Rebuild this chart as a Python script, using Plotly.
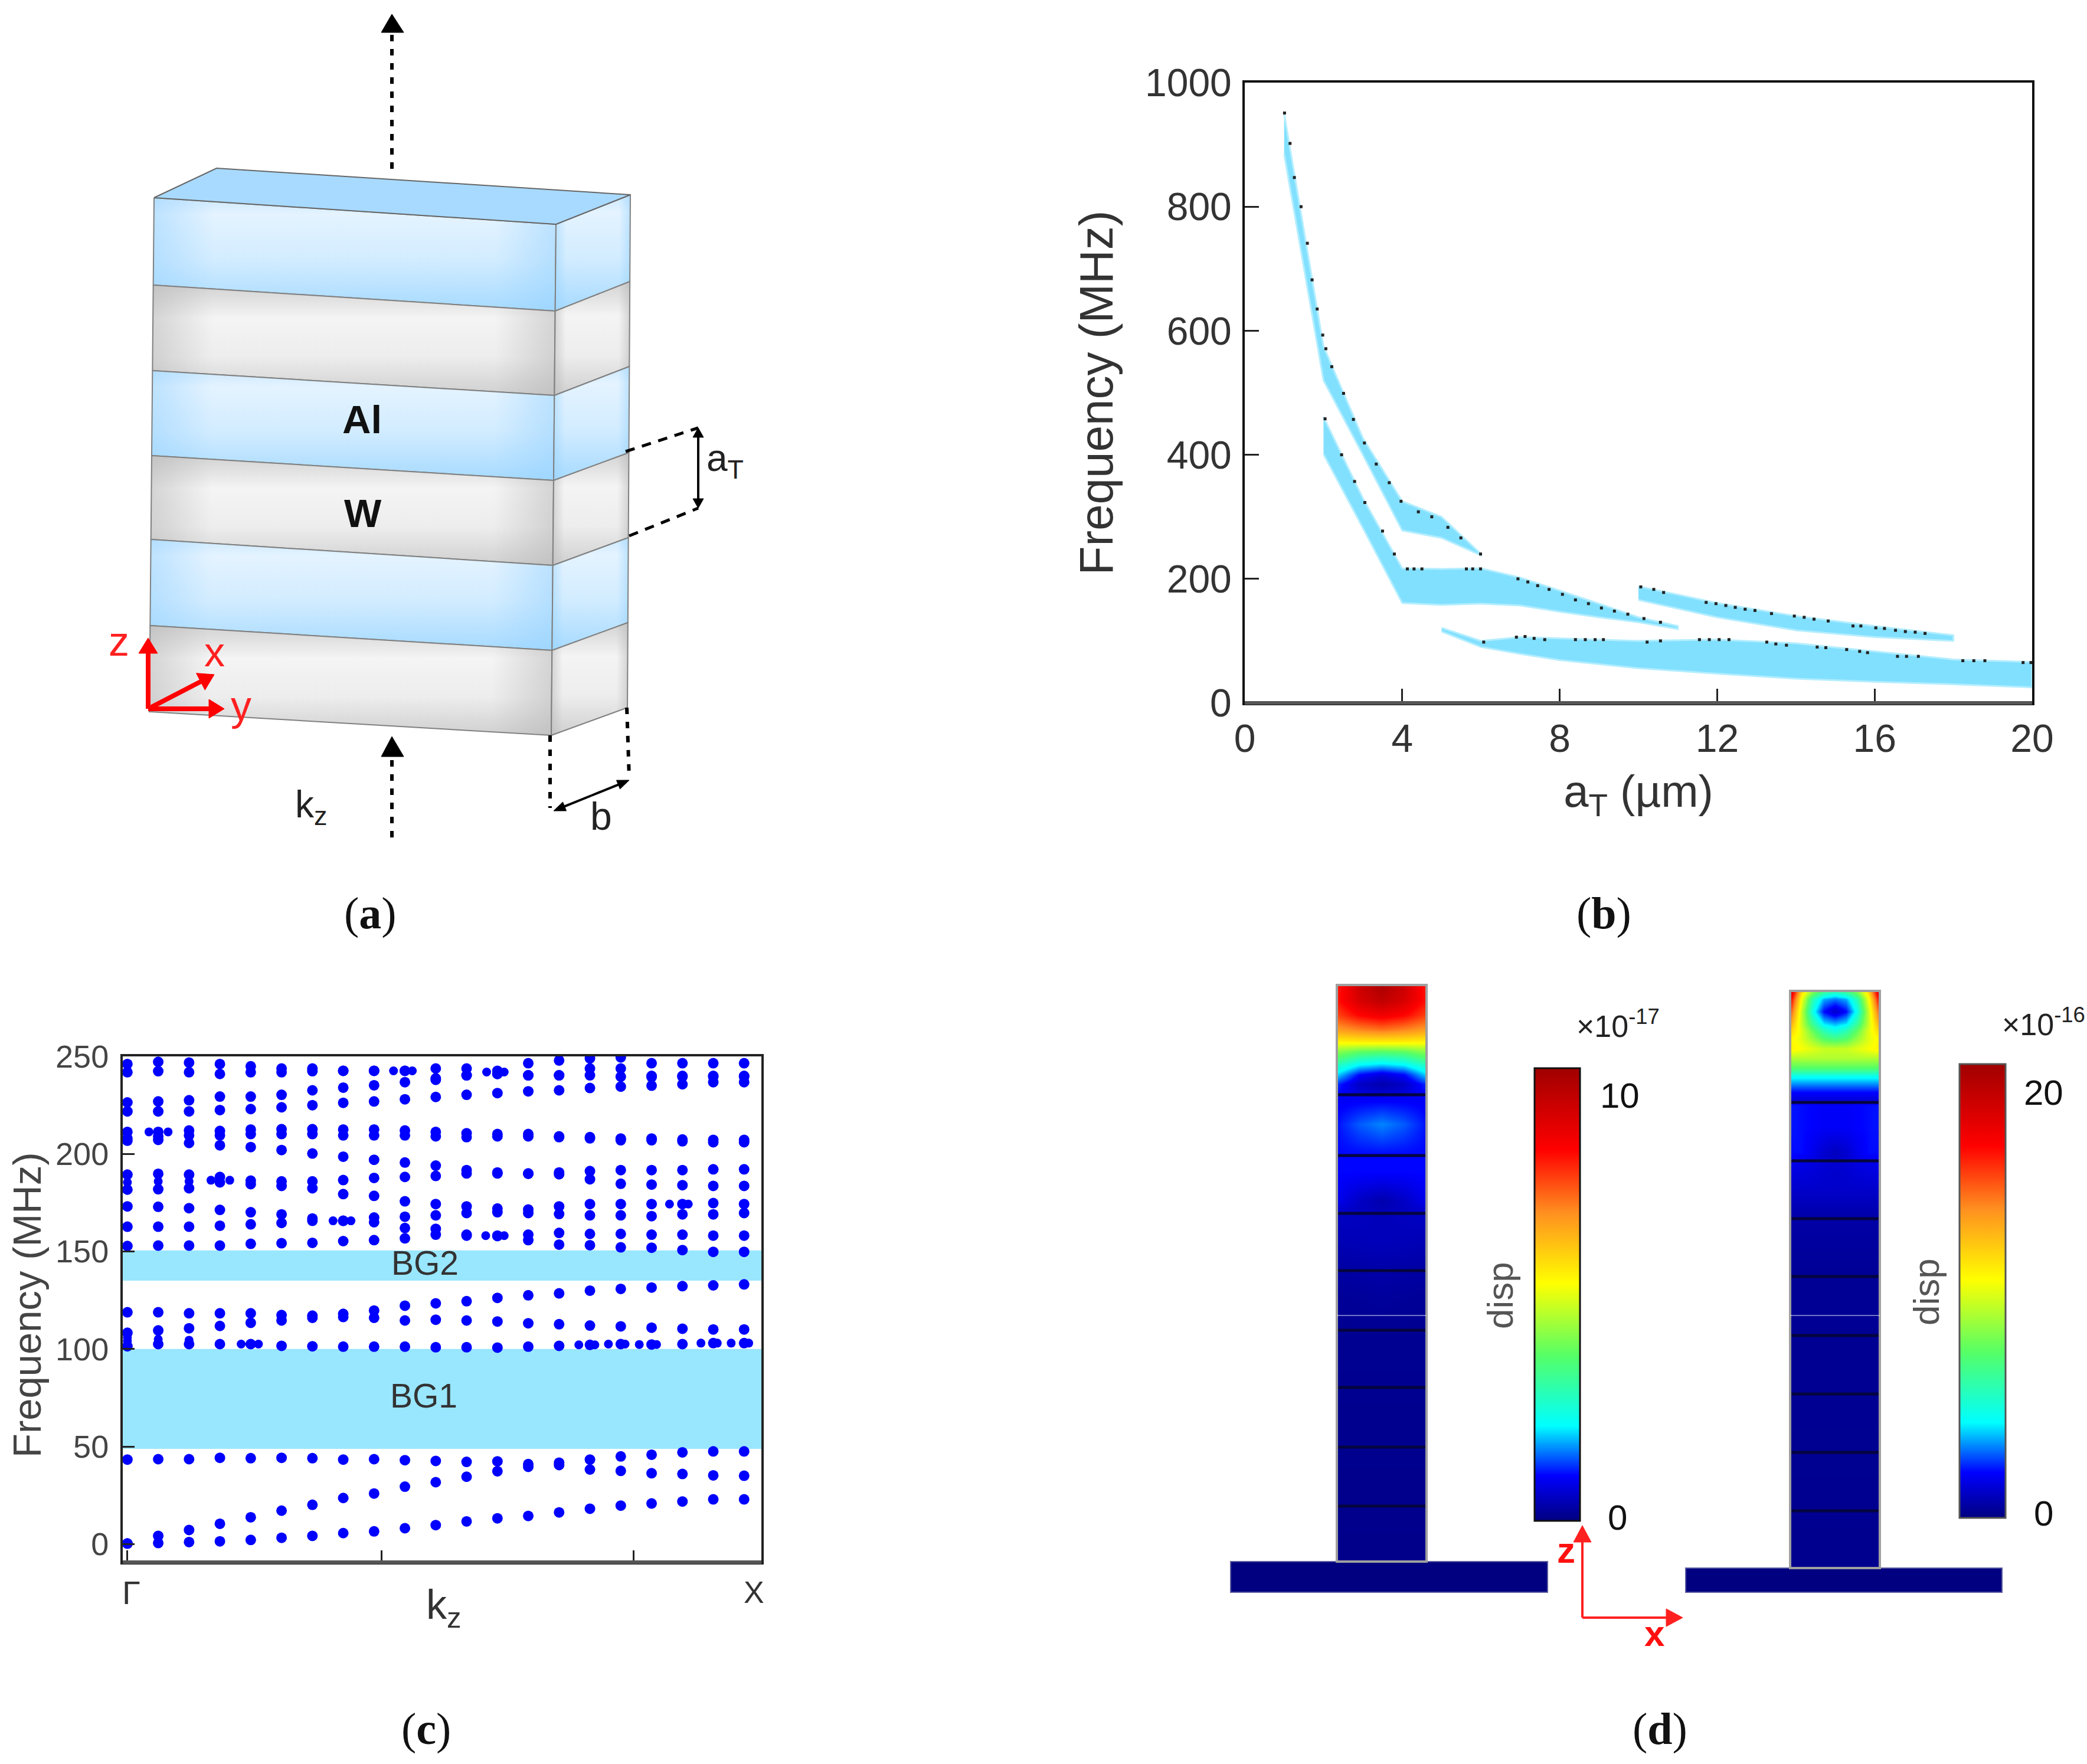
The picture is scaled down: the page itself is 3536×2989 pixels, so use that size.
import math
import plotly.graph_objects as go

W, H = 3536, 2989
SANS = "Liberation Sans"

# panel b: band edges (a_T in um, frequency in MHz)
band1_at = [1, 2, 3, 4, 5, 6]
band1_hi = [950, 575, 427, 325, 300, 240]
band1_lo = [885, 520, 400, 278, 266, 238]
band2_at = [2, 3, 4, 5, 6, 7, 8, 9, 10, 11]
band2_hi = [461, 330, 217, 216, 217, 202, 181, 160, 138, 124]
band2_lo = [401, 282, 161, 158, 160, 157, 147, 138, 130, 119]
band3_at = [10, 12, 14, 16, 18]
band3_hi = [188, 161, 140, 124, 109]
band3_lo = [166, 138, 117, 106, 100]
band4_at = [5, 6, 7, 8, 10, 12, 14, 16, 18, 20]
band4_hi = [121, 100, 106, 104, 100, 102, 96, 83, 70, 66]
band4_lo = [115, 90, 79, 69, 56, 47, 39, 34, 30, 25]

dots_at = [1.01, 1.15, 1.26, 1.43, 1.59, 1.71, 1.84, 1.98, 2.06, 2.21, 2.51, 2.76, 3.04, 3.34, 3.67, 3.97,
           4.41, 4.75, 5.16, 5.49, 5.99,
           2.04, 2.46, 2.79, 3.05, 3.5, 3.8, 4.13, 4.3, 4.5, 5.63, 5.79, 5.99, 6.94, 7.19, 7.44, 7.73,
           8.07, 8.4, 8.73, 9.06, 9.39, 9.73, 10.14, 10.56,
           10.06, 10.39, 10.64, 11.72, 11.97, 12.22, 12.46, 12.71, 12.96, 13.38, 13.96, 14.21, 14.46,
           14.82, 15.45, 15.65, 16.03, 16.25, 16.53, 16.78, 17.03, 17.28,
           6.07, 6.9, 7.12, 7.35, 7.62, 8.4, 8.65, 8.9, 9.11, 10.22, 10.56, 11.55, 11.8, 12.05, 12.3,
           13.26, 13.49, 13.76, 14.54, 14.76, 15.29, 15.62, 15.82, 16.58, 16.81, 17.11, 18.24, 18.52,
           18.8, 19.77, 19.97]
dots_f = [951, 902, 847, 800, 741, 682, 635, 593, 571, 542, 499, 457, 419, 385, 355, 325,
          308, 300, 283, 266, 240,
          458, 400, 357, 323, 277, 240, 216, 216, 216, 216, 216, 216, 200, 195, 189, 183,
          175, 166, 160, 153, 148, 143, 136, 130,
          187, 183, 178, 162, 160, 157, 154, 151, 149, 144, 140, 138, 135,
          132, 124, 124, 121, 120, 117, 115, 114, 112,
          98, 106, 107, 104, 102, 102, 102, 102, 102, 98, 100, 102, 102, 102, 102,
          98, 95, 93, 90, 89, 86, 83, 81, 75, 75, 75, 68, 68,
          68, 65, 65]

# panel c: dispersion branches, one value per k point
k_points = list(range(21))
branch_a = [0.2, 0.5, 1, 1.4, 2.1, 3.2, 4.2, 5.6, 6.5, 8.1, 9.7, 11.6, 13.2, 14.4, 16.2, 18.1, 19.7, 20.8, 21.8, 22.9, 22.9]
branch_b = [0.3, 4.2, 7.2, 10.4, 13.7, 17.1, 20.1, 23.6, 25.9, 29.4, 31.7, 34.5, 37.3, 39.6, 40.5, 38.2, 37.5, 36.3, 35.9, 35.2, 35]
branch_c = [43.3, 43.5, 43.5, 44.2, 44, 44.2, 44, 43.3, 43.5, 43, 42.6, 42.1, 42.4, 41, 41.7, 43.3, 44.9, 45.8, 47, 47.5, 47.5]
branch_d = [101.4, 102.5, 102.5, 102.5, 102.5, 101.6, 101.4, 101.2, 101.2, 101.2, 100.9, 100.9, 100.7, 101.2, 101.6, 102.1, 102.5, 102.3, 102.5, 103, 103]
branch_e = [108.3, 109.5, 110.6, 111.8, 113.4, 114.6, 116, 116.4, 116, 114.6, 115, 114.6, 114.1, 113.2, 112.7, 112, 111.6, 110.9, 110.4, 110, 110]
branch_f = [118.8, 118.8, 118.3, 118.3, 118.3, 117.4, 117.1, 118, 119.7, 122.2, 123.4, 124.5, 126.2, 127.5, 128.5, 129.9, 130.8, 131.5, 132.2, 132.6, 133.1]
branch_g = [152.8, 153, 153, 153, 153.9, 154.2, 154.4, 155.3, 155.8, 156.7, 158.6, 158.1, 157.9, 155.8, 153.5, 153.2, 152.1, 151.9, 150.7, 149.8, 149.8]
branch_h = [162.7, 162.7, 162.7, 163.2, 163.9, 164.6, 165.7, 165.7, 165, 162, 161.6, 158.6, 158.1, 158.6, 159.5, 159, 159, 158.6, 158.6, 158.1, 158.1]
branch_i = [173.1, 172.9, 172.2, 171.3, 170.1, 169, 166.9, 165.7, 167.4, 167.8, 168.5, 169.7, 170.1, 169.7, 169.2, 168.5, 168.5, 168.1, 169, 169, 169.7]
branch_j = [181.7, 181.9, 182.4, 185.4, 184.5, 183.6, 182.4, 179.4, 178.5, 175.7, 174.3, 173.1, 172, 171.5, 173.1, 174.3, 174.3, 174.3, 174.3, 174.8, 174.3]
branch_k = [189.4, 189.8, 189.4, 188.2, 186.3, 185.9, 185.9, 186.6, 187.7, 188.2, 188.7, 190, 190, 190, 189.6, 187, 184.7, 184.3, 184, 183.6, 183.6]
branch_l = [206.8, 207.2, 205.6, 204.4, 203.5, 202, 200.2, 198.6, 197, 195.6, 194, 191.7, 190.5, 189.8, 190.5, 191.2, 191.7, 191.7, 191.7, 192.1, 192.1]
branch_m = [211.3, 211.3, 212, 211.8, 212.5, 212.7, 212.7, 212.5, 212.5, 212, 211.3, 210.6, 210.2, 210.2, 209, 208.6, 207.9, 207.9, 207.4, 207.2, 207.2]
branch_n = [208, 209, 209.5, 209.5, 210.2, 210.2, 210.2, 209.5, 209.5, 209.5, 209, 208.6, 209, 209, 208.6, 208, 207, 207, 206.5, 206, 206]
branch_o = [221.8, 221.8, 221.8, 222.5, 223, 223.9, 225, 226.2, 226.9, 228, 229.2, 230.3, 231.2, 232.1, 232.6, 233.8, 234.5, 235, 235.7, 236.8, 236.8]
branch_p = [226.4, 226.9, 227.5, 229.4, 229.4, 230.3, 232.6, 234, 235.2, 236.8, 238, 240.3, 241, 240.3, 240.3, 240.3, 239.6, 239.4, 239.6, 239.6, 239.6]
branch_q = [246.1, 247.2, 246.8, 246.1, 244.9, 243.8, 243.8, 242.6, 242.6, 242.6, 243.8, 243.8, 242.6, 246.5, 247.9, 249, 249.5, 246.5, 246.5, 246.5, 246.5]
branch_r = [241.9, 242.4, 241.9, 241, 241.9, 241.9, 242.4, 242.6, 242.6, 242.6, 238.7, 240.3, 241, 240.3, 240.3, 243.8, 243.8, 240, 240, 240, 240]
branches = [branch_a, branch_b, branch_c, branch_d, branch_e, branch_f, branch_g, branch_h, branch_i,
            branch_j, branch_k, branch_l, branch_m, branch_n, branch_o, branch_p, branch_q, branch_r]

# points where a branch splits in two inside one k step
split_k = [0, 1, 2, 0, 0, 1, 2, 0.7, 1.32, 2.71, 3.32, 3.69, 4.25, 6.67, 7.25, 8.63, 9.24, 11.65, 12.22, 11.62, 12.22,
           17.58, 18.19, 14.64, 15.16, 15.6, 16.14, 16.6, 17.16, 18.6, 19.13, 19.58, 20.15]
split_f = [185.4, 185.9, 185.9, 104, 106, 105, 104.5, 211.3, 211.3, 186.5, 186.5, 102.5, 102.5, 165.7, 165.7, 242.6, 242.6, 242, 242, 158.1, 158.1,
           174.3, 174.3, 102.1, 102.1, 102.5, 102.5, 102.3, 102.3, 103, 103, 103, 103]
bg1 = [48.8, 100]
bg2 = [135, 150.5]

left_across = [-1, -0.5, 0, 0.5, 1]
left_depth = [0, 34, 64, 94, 119, 139, 154, 169, 189, 209, 229, 239, 294, 359, 394, 454, 482, 544, 604, 664, 728, 1216]
left_disp = [[8.4, 9.8, 10.4, 9.8, 8.4], [8.5, 9.5, 10.0, 9.5, 8.5], [8.0, 8.7, 9.0, 8.7, 8.0], [7.0, 7.3, 7.5, 7.3, 7.0],
             [5.7, 5.8, 5.8, 5.8, 5.7], [4.4, 4.0, 3.9, 4.0, 4.4], [3.7, 3.0, 2.8, 3.0, 3.7], [2.8, 2.1, 1.9, 2.1, 2.8],
             [2.0, 1.0, 0.7, 1.0, 2.0], [1.2, 0.5, 0.3, 0.5, 1.2], [1.0, 0.7, 0.6, 0.7, 1.0], [0.9, 0.9, 0.9, 0.9, 0.9],
             [1.05, 1.4, 1.6, 1.4, 1.05], [1.0, 1.0, 1.0, 1.0, 1.0], [1.0, 1.0, 1.0, 1.0, 1.0], [0.85, 0.5, 0.3, 0.5, 0.85],
             [0.5, 0.45, 0.4, 0.45, 0.5], [0.35, 0.38, 0.4, 0.38, 0.35], [0.2, 0.22, 0.25, 0.22, 0.2], [0.1, 0.12, 0.15, 0.12, 0.1],
             [0.06, 0.06, 0.06, 0.06, 0.06], [0, 0, 0, 0, 0]]
right_across = [-1, -0.75, -0.5, -0.25, 0, 0.25, 0.5, 0.75, 1]
right_depth = [0, 18, 43, 68, 84, 101, 122, 142, 163, 180, 196, 213, 229, 241, 287, 341, 362, 422, 482, 602, 1217]
right_disp = [[20, 12.5, 9, 7, 6, 7, 9, 12.5, 20], [18, 11, 6, 3.5, 3, 3.5, 6, 11, 18], [16, 10, 4.8, 2, 1, 2, 4.8, 10, 16],
              [14, 10, 6.5, 4, 3.5, 4, 6.5, 10, 14], [12.5, 10.5, 8, 6, 5, 6, 8, 10.5, 12.5], [11.5, 10.5, 9, 7.5, 7, 7.5, 9, 10.5, 11.5],
              [11.5, 11, 10.5, 10, 10, 10, 10.5, 11, 11.5], [9.5, 9.5, 9.5, 9.5, 9.5, 9.5, 9.5, 9.5, 9.5],
              [7.5, 7.5, 7.5, 7.5, 7.5, 7.5, 7.5, 7.5, 7.5], [4.5, 4.5, 4.5, 4.5, 4.5, 4.5, 4.5, 4.5, 4.5],
              [3.2, 3.2, 3.2, 3.2, 3.2, 3.2, 3.2, 3.2, 3.2], [2, 2, 2, 2, 2, 2, 2, 2, 2], [1.3, 1.3, 1.3, 1.3, 1.3, 1.3, 1.3, 1.3, 1.3],
              [2.1, 2, 1.9, 1.8, 1.8, 1.8, 1.9, 2, 2.1], [2.1, 2, 1.9, 1.8, 1.8, 1.8, 1.9, 2, 2.1], [2, 2, 1.6, 1.1, 0.8, 1.1, 1.6, 2, 2],
              [1.6, 1.5, 1.4, 1.2, 1.1, 1.2, 1.4, 1.5, 1.6], [1, 1, 1, 1, 1, 1, 1, 1, 1], [0.4, 0.4, 0.4, 0.4, 0.4, 0.4, 0.4, 0.4, 0.4],
              [0.1, 0.1, 0.1, 0.1, 0.1, 0.1, 0.1, 0.1, 0.1], [0, 0, 0, 0, 0, 0, 0, 0, 0]]
jet_stops = [[0, "#000080"], [0.1, "#0000ff"], [0.21, "#00ffff"], [0.365, "#55ff66"], [0.525, "#ffff00"],
             [0.68, "#ff9020"], [0.82, "#ff0000"], [1, "#a00000"]]


def xdom(a, b):
    return [a / W, b / W]


def ydom(top, bottom):
    return [1 - bottom / H, 1 - top / H]


fig = go.Figure()

# ---------- (a) stacked layers, drawn on a page-sized axis ----------
front_left_y = [335, 483, 628, 772, 914, 1060, 1206]
front_right_y = [380, 527, 670, 814, 958, 1102, 1246]
side_y = [330, 477, 621, 767, 911, 1055, 1199]
blue_grad = [[0, "#a6daff"], [0.45, "#d2ecff"], [0.85, "#e4f3ff"], [1, "#cde9ff"]]
grey_grad = [[0, "#cfcfcf"], [0.35, "#ededed"], [0.7, "#f4f4f4"], [1, "#d2d2d2"]]
blue_sides = [[0, "rgba(150,210,255,0.5)"], [0.15, "rgba(150,210,255,0)"], [0.85, "rgba(150,210,255,0)"], [1, "rgba(150,210,255,0.5)"]]
grey_sides = [[0, "rgba(180,180,180,0.5)"], [0.15, "rgba(180,180,180,0)"], [0.85, "rgba(180,180,180,0)"], [1, "rgba(180,180,180,0.5)"]]


def edge_x(x_top, x_bottom, y, y0, y1):
    return x_top + (x_bottom - x_top) * (y - y0) / (y1 - y0)


for i in range(6):
    grad = blue_grad if i % 2 == 0 else grey_grad
    sides = blue_sides if i % 2 == 0 else grey_sides
    fl0, fl1 = edge_x(261, 253, front_left_y[i], 335, 1206), edge_x(261, 253, front_left_y[i + 1], 335, 1206)
    fr0, fr1 = edge_x(942, 934, front_right_y[i], 380, 1246), edge_x(942, 934, front_right_y[i + 1], 380, 1246)
    s0, s1 = edge_x(1068, 1063, side_y[i], 330, 1199), edge_x(1068, 1063, side_y[i + 1], 330, 1199)
    front_x = [fl0, fr0, fr1, fl1, fl0]
    front_y = [front_left_y[i], front_right_y[i], front_right_y[i + 1], front_left_y[i + 1], front_left_y[i]]
    side_x = [fr0, s0, s1, fr1, fr0]
    side_face_y = [front_right_y[i], side_y[i], side_y[i + 1], front_right_y[i + 1], front_right_y[i]]
    for xs, ys in [(front_x, front_y), (side_x, side_face_y)]:
        fig.add_trace(go.Scatter(x=xs, y=ys, mode="lines", fill="toself", line=dict(color="rgba(0,0,0,0)", width=0),
                                 fillgradient=dict(type="vertical", colorscale=grad), showlegend=False, hoverinfo="skip"))
        fig.add_trace(go.Scatter(x=xs, y=ys, mode="lines", fill="toself", line=dict(color="#808080", width=2),
                                 fillgradient=dict(type="horizontal", colorscale=sides), showlegend=False, hoverinfo="skip"))
fig.add_trace(go.Scatter(x=[261, 367, 1068, 942, 261], y=[335, 285, 330, 380, 335], mode="lines", fill="toself",
                         fillcolor="#a8daff", line=dict(color="#666666", width=2), showlegend=False, hoverinfo="skip"))

shapes = []
annotations = []


def page_line(x0, y0, x1, y1, color="black", width=5, dash="solid"):
    shapes.append(dict(type="line", xref="x", yref="y", x0=x0, y0=y0, x1=x1, y1=y1,
                       line=dict(color=color, width=width, dash=dash), layer="above"))


def page_head(path, color="black"):
    shapes.append(dict(type="path", xref="x", yref="y", path=path, fillcolor=color,
                       line=dict(color=color, width=1), layer="above"))


def page_text(x, y, text, size, color="#222222", family=SANS, angle=0):
    annotations.append(dict(xref="x", yref="y", x=x, y=y, text=text, showarrow=False, textangle=angle,
                            font=dict(family=family, size=size, color=color), xanchor="center", yanchor="middle"))


def arrow(x0, y0, x1, y1, color, width=4, head=24, half=9):
    # solid line with a filled triangular tip at (x1, y1)
    d = math.hypot(x1 - x0, y1 - y0)
    ux, uy = (x1 - x0) / d, (y1 - y0) / d
    bx, by = x1 - ux * head, y1 - uy * head
    page_line(x0, y0, bx, by, color=color, width=width)
    page_head(f"M {x1} {y1} L {bx - uy * half} {by + ux * half} L {bx + uy * half} {by - ux * half} Z", color)


dotted = "11px,13px"
page_line(664, 286, 664, 55, dash=dotted, width=6)
page_head("M 664 24 L 646 55 L 684 55 Z")
page_line(664, 1419, 664, 1282, dash=dotted, width=6)
page_head("M 664 1248 L 646 1282 L 684 1282 Z")
page_line(1060, 765, 1183, 725, dash="16px,13px", width=5)
page_line(1066, 908, 1183, 861, dash="16px,13px", width=5)
arrow(1183, 790, 1183, 725, "black", head=16, half=9)
arrow(1183, 790, 1183, 861, "black", head=16, half=9)
page_line(932, 1246, 932, 1369, dash=dotted, width=6)
page_line(1062, 1199, 1066, 1317, dash=dotted, width=6)
arrow(1002, 1348, 1066, 1322, "black", head=20, half=8)
arrow(1002, 1348, 938, 1374, "black", head=20, half=8)
arrow(251, 1201, 251, 1081, "#ff0000", width=8, head=26, half=16)
arrow(251, 1201, 380, 1201, "#ff0000", width=8, head=26, half=16)
arrow(251, 1201, 363, 1143, "#ff0000", width=8, head=26, half=16)
page_text(613, 710, "<b>Al</b>", 67, "#111111")
page_text(615, 869, "<b>W</b>", 67, "#111111")
page_text(1228, 780, "a<sub>T</sub>", 64)
page_text(1018, 1383, "b", 66)
page_text(527, 1367, "k<sub>z</sub>", 64)
page_text(201, 1087, "z", 70, "#ff2020")
page_text(363, 1105, "x", 70, "#ff2020")
page_text(408, 1196, "y", 70, "#ff2020")

# captions
for cx, cy, letter in [(627, 1547, "a"), (2717, 1547, "b"), (722, 2929, "c"), (2812, 2929, "d")]:
    page_text(cx, cy, f"(<b>{letter}</b>)", 76, "#111111", family="Liberation Serif")

# ---------- (b) gap map ----------
for at, hi, lo in [(band1_at, band1_hi, band1_lo), (band2_at, band2_hi, band2_lo),
                   (band3_at, band3_hi, band3_lo), (band4_at, band4_hi, band4_lo)]:
    fig.add_trace(go.Scatter(x=at + at[::-1], y=hi + lo[::-1], mode="lines", fill="toself", fillcolor="#82e0ff",
                             line=dict(color="#b4eeff", width=3), xaxis="x2", yaxis="y2", showlegend=False))
fig.add_trace(go.Scatter(x=dots_at, y=dots_f, mode="markers", marker=dict(color="#222222", size=5, symbol="square"),
                         xaxis="x2", yaxis="y2", showlegend=False))
page_line(2109, 1191, 3443, 1191, color="#555555", width=6)

# ---------- (c) dispersion ----------
shapes.append(dict(type="rect", xref="x3 domain", yref="y3", x0=0, x1=1, y0=bg1[0], y1=bg1[1],
                   fillcolor="#99e6ff", line_width=0, layer="below"))
shapes.append(dict(type="rect", xref="x3 domain", yref="y3", x0=0, x1=1, y0=bg2[0], y1=bg2[1],
                   fillcolor="#99e6ff", line_width=0, layer="below"))
for branch in branches:
    fig.add_trace(go.Scatter(x=k_points, y=branch, mode="markers", marker=dict(color="#0000ff", size=18),
                             xaxis="x3", yaxis="y3", showlegend=False))
fig.add_trace(go.Scatter(x=split_k, y=split_f, mode="markers", marker=dict(color="#0000ff", size=15),
                         xaxis="x3", yaxis="y3", showlegend=False))
page_line(208, 2647, 1290, 2647, color="#555555", width=6)
page_text(720, 2140, "BG2", 57, "#333333")
page_text(718, 2365, "BG1", 57, "#333333")
page_text(222, 2698, "Γ", 56, "#333333")
page_text(1277, 2698, "X", 52, "#333333")
page_text(752, 2724, "k<sub>z</sub>", 70, "#333333")
page_text(45, 2212, "Frequency (MHz)", 67, "#444444", angle=-90)

# ---------- (d) mode shapes ----------
fig.add_trace(go.Heatmap(x=left_across, y=left_depth, z=left_disp, colorscale=jet_stops, zmin=-0.09, zmax=10.65,
                         zsmooth="best", xaxis="x4", yaxis="y4",
                         colorbar=dict(x=2600 / W, xanchor="left", y=1 - 2577 / H, yanchor="bottom", lenmode="pixels",
                                       len=767, thicknessmode="pixels", thickness=77, xpad=0, ypad=0,
                                       outlinewidth=3, outlinecolor="#111111", tickvals=[0, 10], ticks="",
                                       showticklabels=False)))
fig.add_trace(go.Heatmap(x=right_across, y=right_depth, z=right_disp, colorscale=jet_stops, zmin=-0.25, zmax=21.4,
                         zsmooth="best", xaxis="x5", yaxis="y5",
                         colorbar=dict(x=3320 / W, xanchor="left", y=1 - 2572 / H, yanchor="bottom", lenmode="pixels",
                                       len=769, thicknessmode="pixels", thickness=78, xpad=0, ypad=0,
                                       outlinewidth=3, outlinecolor="#555555", tickvals=[0, 20], ticks="",
                                       showticklabels=False)))
page_text(2744, 1856, "10", 60, "#111111")
page_text(2740, 2571, "0", 60, "#111111")
page_text(3462, 1851, "20", 60, "#111111")
page_text(3462, 2564, "0", 60, "#111111")
left_segments = [1855, 1958, 2056, 2153, 2254, 2351, 2452, 2552]
right_segments = [1868, 1967, 2065, 2163, 2263, 2362, 2461, 2560]
for y in left_segments:
    page_line(2265, y, 2417, y, color="#050540", width=5)
for y in right_segments:
    page_line(3033, y, 3185, y, color="#050540", width=5)
for x0, y0, x1, y1 in [(2085, 2646, 2622, 2698), (2856, 2657, 3392, 2698)]:
    shapes.append(dict(type="rect", xref="x", yref="y", x0=x0, y0=y0, x1=x1, y1=y1, fillcolor="#000080",
                       line=dict(color="#5a5aa0", width=2), layer="above"))
for x0, y0, x1, y1 in [(2265, 1669, 2417, 2646), (3033, 1679, 3185, 2657)]:
    shapes.append(dict(type="rect", xref="x", yref="y", x0=x0, y0=y0, x1=x1, y1=y1, fillcolor="rgba(0,0,0,0)",
                       line=dict(color="#a0a0a0", width=4), layer="above"))
for x0, x1 in [(2265, 2417), (2600, 2677), (3033, 3185), (3320, 3398)]:
    page_line(x0, 2229, x1, 2229, color="rgba(255,255,255,0.45)", width=2)
page_text(2541, 2195, "disp", 62, "#555555", angle=-90)
page_text(3263, 2189, "disp", 62, "#555555", angle=-90)
page_text(2741, 1735, "×10<sup>-17</sup>", 52, "#222222")
page_text(3462, 1732, "×10<sup>-16</sup>", 52, "#222222")
arrow(2681, 2741, 2681, 2585, "#ff2020", width=4, head=28, half=15)
arrow(2681, 2741, 2851, 2741, "#ff2020", width=4, head=28, half=15)
page_text(2653, 2626, "<b>z</b>", 62, "#ff1010")
page_text(2803, 2767, "<b>x</b>", 62, "#ff1010")

hidden = dict(visible=False, showgrid=False, zeroline=False)
frame_b = dict(showline=True, mirror=True, linecolor="#111111", linewidth=4, ticks="inside", ticklen=24, tickwidth=3,
               tickcolor="#222222", showgrid=False, zeroline=False)
frame_c = dict(showline=True, mirror=True, linecolor="#222222", linewidth=4, ticks="inside", ticklen=20, tickwidth=3,
               tickcolor="#222222", showgrid=False, zeroline=False)
fig.update_layout(
    width=W, height=H, autosize=False, margin=dict(l=0, r=0, t=0, b=0, autoexpand=False),
    paper_bgcolor="white", plot_bgcolor="rgba(0,0,0,0)",
    showlegend=False, shapes=shapes, annotations=annotations,
    xaxis=dict(hidden, domain=[0, 1], range=[0, W]),
    yaxis=dict(hidden, domain=[0, 1], range=[H, 0]),
    xaxis2=dict(frame_b, domain=xdom(2109, 3443), range=[0, 20], tickvals=[0, 4, 8, 12, 16, 20], anchor="y2",
                tickfont=dict(family=SANS, size=66, color="#333333"),
                title=dict(text="a<sub>T</sub> (µm)", font=dict(family=SANS, size=76, color="#333333"), standoff=28)),
    yaxis2=dict(frame_b, domain=ydom(140, 1191), range=[0, 1000], tickvals=[0, 200, 400, 600, 800, 1000], anchor="x2",
                ticklabelstandoff=5,
                tickfont=dict(family=SANS, size=66, color="#333333"),
                title=dict(text="Frequency (MHz)", font=dict(family=SANS, size=80, color="#333333"), standoff=29)),
    xaxis3=dict(frame_c, domain=xdom(208, 1290), range=[-0.15, 20.56], tickvals=[0, 8.25, 16.42], showticklabels=False, anchor="y3"),
    yaxis3=dict(frame_c, domain=ydom(1790, 2647), range=[-9.3, 250], tickvals=[0, 50, 100, 150, 200, 250], anchor="x3",
                ticklabelstandoff=9,
                tickfont=dict(family=SANS, size=54, color="#444444")),
    xaxis4=dict(hidden, domain=xdom(2265, 2417), range=[-1, 1], anchor="y4"),
    yaxis4=dict(hidden, domain=ydom(1669, 2646), range=[1216, 0], anchor="x4"),
    xaxis5=dict(hidden, domain=xdom(3033, 3185), range=[-1, 1], anchor="y5"),
    yaxis5=dict(hidden, domain=ydom(1679, 2657), range=[1217, 0], anchor="x5"),
)

fig.write_html("out.html", config=dict(displayModeBar=False), post_script="document.body.style.margin='0';")
